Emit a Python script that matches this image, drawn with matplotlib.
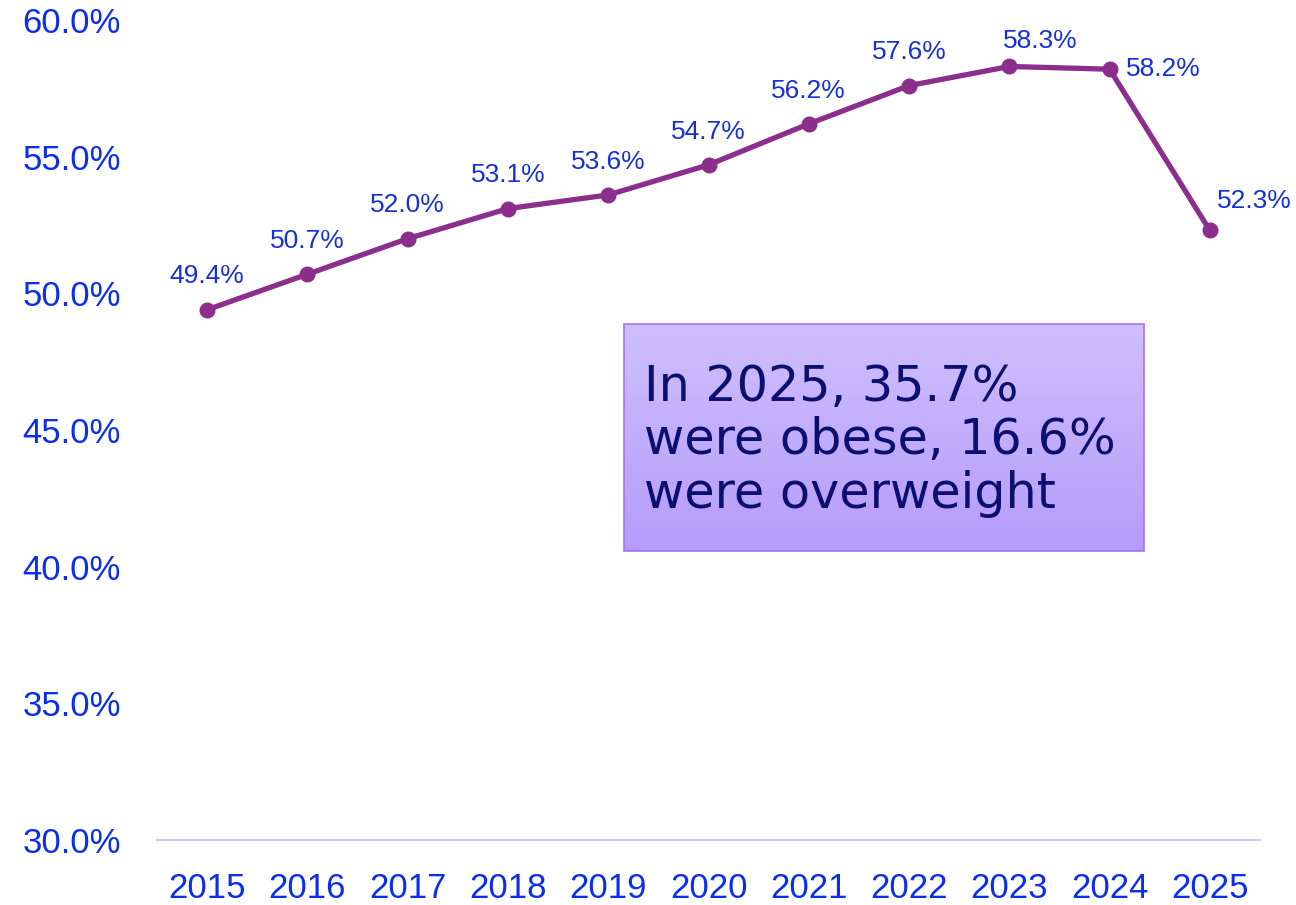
import matplotlib
matplotlib.use("Agg")
import matplotlib.pyplot as plt
import numpy as np
from matplotlib.patches import Rectangle
from matplotlib.colors import LinearSegmentedColormap

years = ["2015", "2016", "2017", "2018", "2019", "2020", "2021", "2022", "2023", "2024", "2025"]
values = [49.4, 50.7, 52.0, 53.1, 53.6, 54.7, 56.2, 57.6, 58.3, 58.2, 52.3]
yticks = [30, 35, 40, 45, 50, 55, 60]
note = "In 2025, 35.7%\nwere obese, 16.6%\nwere overweight"

fig = plt.figure(figsize=(12.96, 9.05), dpi=100)
ax = fig.add_axes([157/1296, 65/905, (1260-157)/1296, (840-20)/905])

x = np.arange(len(years))
ax.plot(x, values, color="#8c2e8c", lw=3.8, marker="o", ms=10.5, zorder=3,
        solid_capstyle="round")

ax.set_xlim(-0.5, len(years) - 0.5)
ax.set_ylim(30, 60)
ax.set_yticks(yticks)
ax.set_yticklabels([f"{t:.1f}%" for t in yticks])
ax.set_xticks(x)
ax.set_xticklabels(years)
ax.tick_params(axis="both", length=0, labelcolor="#0a2ef0", labelsize=25)
ax.tick_params(axis="y", pad=26)
ax.tick_params(axis="x", pad=23)
for lbl in ax.get_xticklabels() + ax.get_yticklabels():
    lbl.set_fontfamily("Liberation Sans")
for s in ["top", "right", "left"]:
    ax.spines[s].set_visible(False)
ax.spines["bottom"].set_color("#c5cdf5")
ax.spines["bottom"].set_linewidth(1.5)

# data labels
for i, (xi, v) in enumerate(zip(x, values)):
    if i == len(values) - 2:
        off, ha, va = (12, 0), "left", "center"
    elif i == len(values) - 1:
        off, ha, va = (5, 21), "left", "center"
    elif i == len(values) - 3:
        off, ha, va = (22, 18), "center", "center"
    else:
        off, ha, va = (0, 24), "center", "center"
    ax.annotate(f"{v:.1f}%", (xi, v), xytext=off, textcoords="offset points",
                ha=ha, va=va, fontsize=19, color="#1530d8", family="Liberation Sans")

# annotation box with gradient
x0, x1 = 4.156, 9.34
y0, y1 = 40.57, 48.87
cmap = LinearSegmentedColormap.from_list("g", ["#cfbffd", "#b69bfb"])
grad = np.linspace(0, 1, 256).reshape(-1, 1)
ax.imshow(grad, extent=[x0, x1, y0, y1], cmap=cmap, aspect="auto", zorder=1)
ax.add_patch(Rectangle((x0, y0), x1 - x0, y1 - y0, fill=False,
                       edgecolor="#a274f5", lw=1.2, zorder=2))
ax.set_xlim(-0.5, len(years) - 0.5)
ax.set_ylim(30, 60)
ax.text(x0 + 0.2, (y0 + y1) / 2 - 0.1, note, ha="left", va="center", fontsize=35.5,
        color="#0b0f6e", family="DejaVu Sans", linespacing=1.15, zorder=3)

fig.savefig("out.png", dpi=100)
